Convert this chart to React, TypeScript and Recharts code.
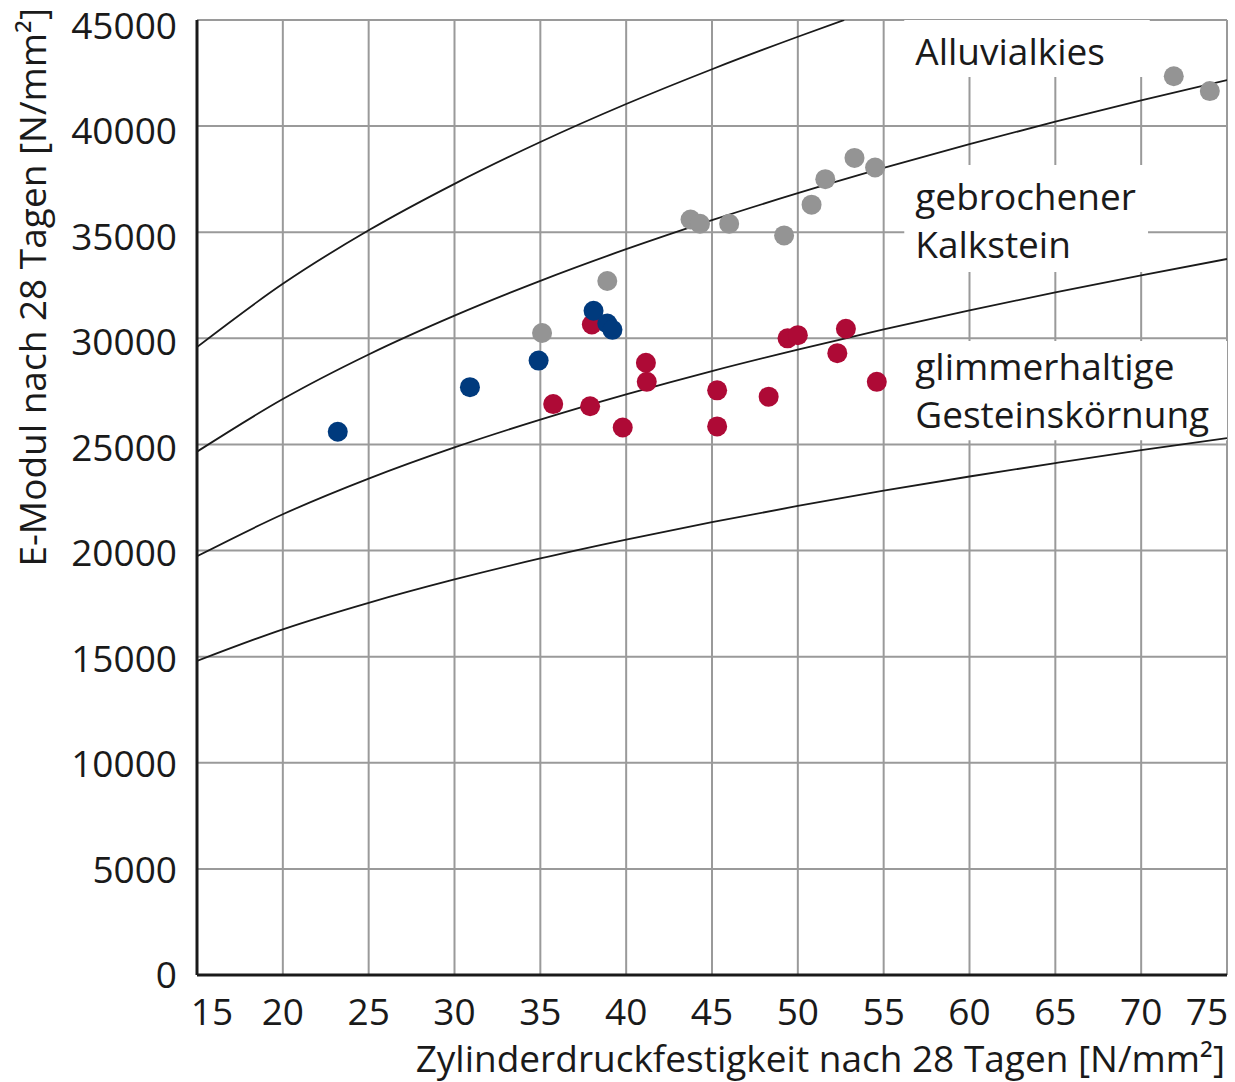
import React from 'react';
import {
  ComposedChart,
  Line,
  Scatter,
  XAxis,
  YAxis,
  CartesianGrid,
  ReferenceArea,
  Label,
} from 'recharts';

const xTicks = [15, 20, 25, 30, 35, 40, 45, 50, 55, 60, 65, 70, 75];
const yTicks = [0, 5000, 10000, 15000, 20000, 25000, 30000, 35000, 40000, 45000];

// curves
const curveX = [15, 20, 25, 30, 35, 40, 45, 50, 55, 60, 65, 70, 75];
const curveLow = [14800, 16290, 17540, 18640, 19630, 20520, 21340, 22100, 22820, 23490, 24120, 24730, 25300];
const curveMica = [19730, 21710, 23390, 24860, 26170, 27360, 28460, 29470, 30420, 31320, 32170, 32970, 33740];
const curveLime = [24660, 27140, 29240, 31070, 32710, 34200, 35570, 36840, 38030, 39150, 40210, 41210, 42170];
const curveHighX = [15, 20, 25, 30, 35, 40, 45, 50, 52.7];
const curveHigh = [29590, 32570, 35090, 37280, 39250, 41040, 42680, 44210, 45000];

// scatter points
const blueX = [23.2, 30.9, 34.9, 38.1, 38.9, 39.2];
const blueY = [25600, 27700, 28950, 31300, 30700, 30400];
const grayX = [35.1, 38.9, 43.75, 44.3, 46.0, 49.2, 50.8, 51.6, 53.3, 54.5, 71.9, 74.0];
const grayY = [30250, 32700, 35600, 35400, 35400, 34850, 36300, 37500, 38500, 38050, 42350, 41650];
const redX = [38.0, 41.15, 41.2, 35.75, 37.9, 39.8, 45.3, 45.3, 48.3, 49.4, 50.0, 52.8, 52.3, 54.6];
const redY = [30650, 28850, 27950, 26900, 26800, 25800, 27550, 25850, 27250, 30000, 30150, 30450, 29300, 27950];

const toPts = (xs: number[], ys: number[]) => xs.map((x, i) => ({ x, y: ys[i] }));

const FONT = "'Open Sans', sans-serif";
const TXT = '#1a1a1a';
const FS = 37;

const XTick = (props: any) => {
  const { x, y, payload } = props;
  let dx = 0;
  if (payload.value === 15) dx = 15;
  if (payload.value === 75) dx = -20;
  return (
    <text x={x + dx} y={y + 42} textAnchor="middle" fontFamily={FONT} fontSize={FS} fill={TXT}>
      {payload.value}
    </text>
  );
};

const YTick = (props: any) => {
  const { y, payload } = props;
  const off = 13 + (6 * payload.value) / 45000;
  return (
    <text x={177} y={y + off} textAnchor="end" fontFamily={FONT} fontSize={FS} fill={TXT}>
      {payload.value}
    </text>
  );
};

const boxLabel = (lines: string[], firstOffset: number) => (props: any) => {
  const vb = props.viewBox || {};
  return (
    <g>
      {lines.map((l, i) => (
        <text
          key={i}
          x={vb.x + 11}
          y={vb.y + firstOffset + i * 48}
          fontFamily={FONT}
          fontSize={FS}
          fill={TXT}
        >
          {l}
        </text>
      ))}
    </g>
  );
};

const dot = (color: string) => (p: any) => (
  <circle cx={p.cx} cy={p.cy} r={10} fill={color} />
);

export default function App() {
  return (
    <div style={{ position: 'absolute', left: 0, top: 0, background: '#fff' }}>
      <ComposedChart
        width={1235}
        height={1082}
        margin={{ top: 20, right: 8, bottom: 0, left: 0 }}
      >
        <CartesianGrid stroke="#9a9a9a" strokeWidth={2} />
        <XAxis
          type="number"
          dataKey="x"
          domain={[15, 75]}
          ticks={xTicks}
          allowDataOverflow
          height={107}
          tickLine={false}
          axisLine={{ stroke: '#1a1a1a', strokeWidth: 3 }}
          tick={<XTick />}
          interval={0}
        >
          <Label
            content={(p: any) => {
              const vb = p.viewBox || {};
              return (
                <text
                  x={vb.x + vb.width - 2}
                  y={vb.y + 97}
                  textAnchor="end"
                  fontFamily={FONT}
                  fontSize={FS}
                  fill={TXT}
                >
                  Zylinderdruckfestigkeit nach 28 Tagen [N/mm²]
                </text>
              );
            }}
          />
        </XAxis>
        <YAxis
          type="number"
          dataKey="y"
          domain={[0, 45000]}
          ticks={yTicks}
          allowDataOverflow
          width={197}
          tickLine={false}
          axisLine={{ stroke: '#1a1a1a', strokeWidth: 3 }}
          tick={<YTick />}
          interval={0}
        >
          <Label
            content={() => (
              <text
                x={46}
                y={8}
                transform="rotate(-90, 46, 8)"
                textAnchor="end"
                fontFamily={FONT}
                fontSize={FS}
                fill={TXT}
              >
                E-Modul nach 28 Tagen [N/mm²]
              </text>
            )}
          />
        </YAxis>

        <ReferenceArea
          x1={56.2}
          x2={70.5}
          y1={42320}
          y2={45000}
          fill="#ffffff"
          fillOpacity={1}
          stroke="none"
          label={boxLabel(['Alluvialkies'], 45)}
        />
        <ReferenceArea
          x1={56.2}
          x2={70.4}
          y1={33130}
          y2={38170}
          fill="#ffffff"
          fillOpacity={1}
          stroke="none"
          label={boxLabel(['gebrochener', 'Kalkstein'], 45)}
        />
        <ReferenceArea
          x1={56.2}
          x2={75}
          y1={25200}
          y2={29880}
          fill="#ffffff"
          fillOpacity={1}
          stroke="none"
          label={boxLabel(['glimmerhaltige', 'Gesteinskörnung'], 39)}
        />

        <Line data={toPts(curveX, curveLow)} dataKey="y" type="monotone" stroke="#1a1a1a" strokeWidth={1.8} dot={false} activeDot={false} isAnimationActive={false} />
        <Line data={toPts(curveX, curveMica)} dataKey="y" type="monotone" stroke="#1a1a1a" strokeWidth={1.8} dot={false} activeDot={false} isAnimationActive={false} />
        <Line data={toPts(curveX, curveLime)} dataKey="y" type="monotone" stroke="#1a1a1a" strokeWidth={1.8} dot={false} activeDot={false} isAnimationActive={false} />
        <Line data={toPts(curveHighX, curveHigh)} dataKey="y" type="monotone" stroke="#1a1a1a" strokeWidth={1.8} dot={false} activeDot={false} isAnimationActive={false} />

        <Scatter data={toPts(grayX, grayY)} dataKey="y" shape={dot('#949494')} isAnimationActive={false} />
        <Scatter data={toPts(redX, redY)} dataKey="y" shape={dot('#ae0a36')} isAnimationActive={false} />
        <Scatter data={toPts(blueX, blueY)} dataKey="y" shape={dot('#003a7d')} isAnimationActive={false} />
      </ComposedChart>
    </div>
  );
}
